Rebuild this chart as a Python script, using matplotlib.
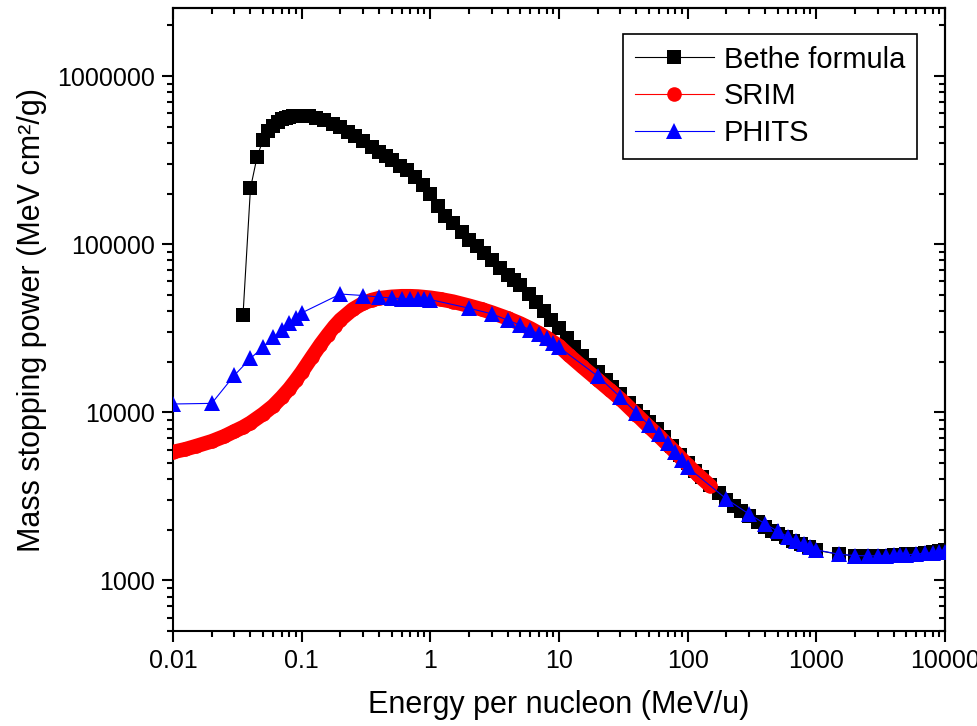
import numpy as np
import matplotlib.pyplot as plt
import matplotlib.ticker as mticker

plt.rcParams['font.family'] = ['Liberation Sans', 'DejaVu Sans']

# Bethe formula: energy per nucleon (MeV/u) and mass stopping power (MeV cm2/g)
bethe_e = [0.035, 0.04, 0.045, 0.05, 0.055, 0.06, 0.065, 0.07, 0.075, 0.08, 0.085, 0.09, 0.095, 0.1,
           0.115, 0.13, 0.15, 0.175, 0.2, 0.23, 0.26, 0.3, 0.35, 0.4, 0.45, 0.5, 0.58, 0.66, 0.76, 0.87,
           1.0, 1.15, 1.3, 1.5, 1.75, 2.0, 2.3, 2.6, 3.0, 3.5, 4.0, 4.5, 5.0, 5.8, 6.6, 7.6, 8.7,
           10, 11.5, 13, 15, 17.5, 20, 23, 26, 30, 35, 40, 45, 50, 58, 66, 76, 87,
           100, 115, 130, 150, 175, 200, 230, 260, 300, 350, 400, 450, 500, 580, 660, 760, 870,
           1000, 1500, 2000, 2500, 3000, 3500, 4000, 4500, 5000, 6000, 7000, 8000, 9000, 10000]
bethe_s = [37800, 215000, 330000, 416000, 470000, 508000, 535000, 553000, 565000, 573000, 578000, 581000, 582000, 581000,
           575000, 565000, 548000, 522000, 495000, 465000, 440000, 412000, 380000, 355000, 335000, 318000, 292000, 275000, 250000, 225000,
           198000, 168000, 148000, 133000, 118000, 106000, 97000, 89000, 81000, 72000, 66000, 61000, 57000, 50500, 45000, 40000, 35500,
           31600, 27500, 24500, 21500, 19000, 17300, 15500, 14200, 12900, 11400, 10200, 9400, 8800, 7900, 7100, 6300, 5600,
           5000, 4500, 4100, 3700, 3300, 3000, 2760, 2580, 2400, 2220, 2080, 1980, 1900, 1800, 1720, 1640, 1570,
           1510, 1430, 1400, 1395, 1400, 1405, 1410, 1420, 1430, 1445, 1460, 1475, 1490, 1510]

# SRIM
srim_e = [0.01, 0.0125, 0.015, 0.02, 0.025, 0.03, 0.035, 0.04, 0.05, 0.06, 0.07, 0.08, 0.09, 0.1,
          0.12, 0.14, 0.16, 0.18, 0.2, 0.25, 0.3, 0.35, 0.4, 0.5, 0.6, 0.7, 0.8, 1.0,
          1.2, 1.5, 2, 2.5, 3, 4, 5, 6, 7, 8, 10,
          12, 15, 20, 25, 30, 40, 50, 60, 70, 80, 100, 120, 150]
srim_s = [5800, 6030, 6280, 6720, 7190, 7700, 8150, 8650, 9750, 10900, 12300, 13800, 15500, 17300,
          21300, 25300, 29000, 32500, 35500, 41000, 44500, 46500, 47700, 48600, 49000, 49000, 48800, 48000,
          47000, 45500, 43000, 41000, 39200, 36200, 33700, 31500, 29500, 27800, 24800,
          21800, 18800, 15600, 13500, 12000, 9700, 8200, 7200, 6400, 5800, 4850, 4250, 3650]

# PHITS
phits_e = [0.01, 0.02, 0.03, 0.04, 0.05, 0.06, 0.07, 0.08, 0.09, 0.1,
           0.2, 0.3, 0.4, 0.5, 0.6, 0.7, 0.8, 0.9, 1.0,
           2, 3, 4, 5, 6, 7, 8, 9, 10,
           20, 30, 40, 50, 60, 70, 80, 90, 100,
           200, 300, 400, 500, 600, 700, 800, 900, 1000,
           1500, 2000, 2500, 3000, 3500, 4000, 4500, 5000, 6000, 7000, 8000, 9000, 10000]
phits_s = [11200, 11300, 16600, 20900, 24400, 27900, 30800, 33900, 36500, 39000,
           50500, 49500, 48500, 47800, 47500, 47300, 47200, 47000, 46800,
           41600, 38500, 35300, 33000, 30800, 29300, 27500, 25800, 24400,
           16400, 12300, 9900, 8400, 7400, 6600, 5800, 5200, 4700,
           3050, 2480, 2170, 1960, 1820, 1720, 1640, 1580, 1520,
           1430, 1405, 1400, 1400, 1405, 1410, 1415, 1420, 1435, 1450, 1460, 1470, 1485]

fig = plt.figure(figsize=(9.78, 7.26), dpi=100)
ax = fig.add_axes([173 / 978, 95 / 726, 772 / 978, 623 / 726])

ax.plot(bethe_e, bethe_s, color='black', lw=0.8, marker='s', ms=9.5, mew=0,
        label='Bethe formula', zorder=2)
# dense SRIM points drawn as a continuous band
ax.plot(srim_e, srim_s, color='red', lw=10.5, solid_capstyle='round',
        solid_joinstyle='round', zorder=3)
ax.plot(srim_e, srim_s, color='red', lw=0.8, marker='o', ms=10.5, mew=0,
        label='SRIM', zorder=3)
ax.plot(phits_e, phits_s, color='blue', lw=0.8, marker='^', ms=11.5, mew=0,
        label='PHITS', zorder=4)

ax.set_xscale('log')
ax.set_yscale('log')
ax.set_xlim(0.01, 10000)
ax.set_ylim(500, 2.54e6)

fmt = mticker.FuncFormatter(lambda v, p: f"{v:g}" if v < 1 else f"{v:.0f}")
for axis in (ax.xaxis, ax.yaxis):
    axis.set_major_locator(mticker.LogLocator(base=10, numticks=20))
    axis.set_minor_locator(mticker.LogLocator(base=10, subs=np.arange(2, 10), numticks=100))
    axis.set_major_formatter(fmt)
    axis.set_minor_formatter(mticker.NullFormatter())

ax.tick_params(which='major', direction='out', length=8, width=1.5, labelsize=18, pad=5)
ax.tick_params(which='minor', direction='out', length=4.5, width=1.5)
for sp in ax.spines.values():
    sp.set_linewidth(1.5)

# inward ticks on the top and right frame
secx = ax.secondary_xaxis('top')
secy = ax.secondary_yaxis('right')
for sec, axis in ((secx, secx.xaxis), (secy, secy.yaxis)):
    axis.set_major_locator(mticker.LogLocator(base=10, numticks=20))
    axis.set_minor_locator(mticker.LogLocator(base=10, subs=np.arange(2, 10), numticks=100))
    axis.set_major_formatter(mticker.NullFormatter())
    axis.set_minor_formatter(mticker.NullFormatter())
    sec.tick_params(which='major', direction='in', length=8, width=1.5)
    sec.tick_params(which='minor', direction='in', length=4.5, width=1.5)
    for sp in sec.spines.values():
        sp.set_linewidth(1.5)

ax.set_xlabel('Energy per nucleon (MeV/u)', fontsize=22, labelpad=12)
ax.set_ylabel('Mass stopping power (MeV cm²/g)', fontsize=22, labelpad=7)

leg = ax.legend(loc='upper right', bbox_to_anchor=(0.9637, 0.9583), borderaxespad=0,
                fontsize=21, frameon=True, fancybox=False, edgecolor='black', framealpha=1,
                handlelength=2.7, handletextpad=0.35, labelspacing=0.3, borderpad=0.4,
                numpoints=1)
leg.get_frame().set_linewidth(1.2)

fig.savefig('out.png', dpi=100)
